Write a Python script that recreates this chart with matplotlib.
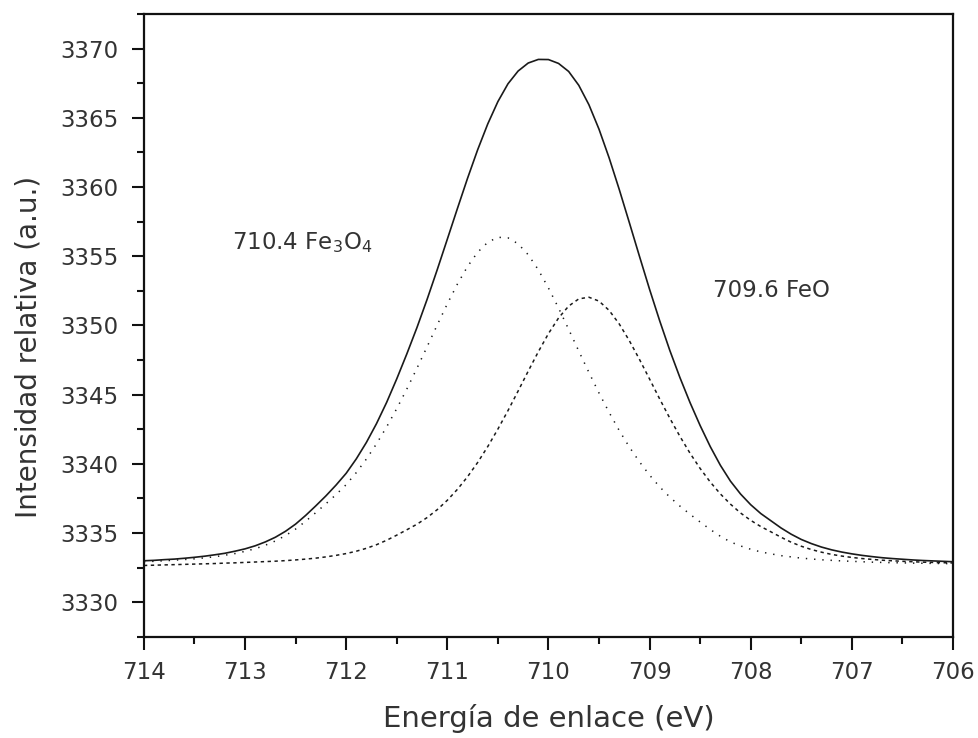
import matplotlib
matplotlib.use("Agg")
import matplotlib.pyplot as plt
from matplotlib.ticker import MultipleLocator

# Binding energy (eV), sampled every 0.1 eV from 714 down to 706
energy = [714.0, 713.9, 713.8, 713.7, 713.6, 713.5, 713.4, 713.3, 713.2, 713.1,
          713.0, 712.9, 712.8, 712.7, 712.6, 712.5, 712.4, 712.3, 712.2, 712.1,
          712.0, 711.9, 711.8, 711.7, 711.6, 711.5, 711.4, 711.3, 711.2, 711.1,
          711.0, 710.9, 710.8, 710.7, 710.6, 710.5, 710.4, 710.3, 710.2, 710.1,
          710.0, 709.9, 709.8, 709.7, 709.6, 709.5, 709.4, 709.3, 709.2, 709.1,
          709.0, 708.9, 708.8, 708.7, 708.6, 708.5, 708.4, 708.3, 708.2, 708.1,
          708.0, 707.9, 707.8, 707.7, 707.6, 707.5, 707.4, 707.3, 707.2, 707.1,
          707.0, 706.9, 706.8, 706.7, 706.6, 706.5, 706.4, 706.3, 706.2, 706.1,
          706.0]

# Total envelope (solid)
total = [3333.00, 3333.03, 3333.08, 3333.12, 3333.18, 3333.25, 3333.33, 3333.43, 3333.54, 3333.69,
         3333.86, 3334.08, 3334.36, 3334.70, 3335.13, 3335.65, 3336.28, 3336.97, 3337.69, 3338.47,
         3339.32, 3340.36, 3341.55, 3342.91, 3344.44, 3346.14, 3347.95, 3349.85, 3351.88, 3354.02,
         3356.23, 3358.45, 3360.63, 3362.69, 3364.56, 3366.17, 3367.46, 3368.38, 3368.96, 3369.22,
         3369.21, 3368.93, 3368.35, 3367.35, 3365.95, 3364.18, 3362.11, 3359.83, 3357.43, 3355.00,
         3352.61, 3350.34, 3348.20, 3346.24, 3344.43, 3342.77, 3341.25, 3339.90, 3338.75, 3337.82,
         3337.05, 3336.41, 3335.89, 3335.37, 3334.92, 3334.54, 3334.24, 3333.99, 3333.79, 3333.63,
         3333.50, 3333.39, 3333.30, 3333.22, 3333.16, 3333.11, 3333.06, 3333.02, 3332.99, 3332.96,
         3332.93]

# Fe3O4 component, 710.4 eV (dotted)
fe3o4 = [3332.93, 3332.96, 3333.00, 3333.04, 3333.09, 3333.14, 3333.21, 3333.29, 3333.40, 3333.52,
         3333.68, 3333.87, 3334.12, 3334.43, 3334.82, 3335.29, 3335.86, 3336.48, 3337.12, 3337.78,
         3338.50, 3339.37, 3340.35, 3341.45, 3342.67, 3343.99, 3345.41, 3346.91, 3348.46, 3350.03,
         3351.56, 3352.99, 3354.26, 3355.29, 3356.01, 3356.37, 3356.33, 3355.90, 3355.11, 3354.02,
         3352.71, 3351.26, 3349.72, 3348.15, 3346.61, 3345.12, 3343.72, 3342.41, 3341.22, 3340.15,
         3339.19, 3338.34, 3337.60, 3336.95, 3336.36, 3335.80, 3335.26, 3334.77, 3334.36, 3334.07,
         3333.83, 3333.64, 3333.50, 3333.37, 3333.28, 3333.19, 3333.13, 3333.07, 3333.03, 3332.99,
         3332.96, 3332.93, 3332.90, 3332.88, 3332.86, 3332.85, 3332.83, 3332.82, 3332.81, 3332.80,
         3332.79]

# FeO component, 709.6 eV (dashed)
feo = [3332.66, 3332.68, 3332.70, 3332.72, 3332.74, 3332.76, 3332.78, 3332.80, 3332.83, 3332.85,
       3332.88, 3332.91, 3332.94, 3332.97, 3333.01, 3333.06, 3333.12, 3333.19, 3333.28, 3333.39,
       3333.52, 3333.69, 3333.90, 3334.16, 3334.48, 3334.85, 3335.24, 3335.64, 3336.12, 3336.69,
       3337.37, 3338.16, 3339.07, 3340.10, 3341.25, 3342.51, 3343.85, 3345.26, 3346.70, 3348.10,
       3349.41, 3350.54, 3351.40, 3351.92, 3352.04, 3351.76, 3351.09, 3350.11, 3348.90, 3347.55,
       3346.13, 3344.69, 3343.30, 3341.99, 3340.77, 3339.67, 3338.69, 3337.83, 3337.09, 3336.45,
       3335.92, 3335.47, 3335.09, 3334.70, 3334.34, 3334.05, 3333.81, 3333.62, 3333.46, 3333.34,
       3333.24, 3333.16, 3333.10, 3333.04, 3333.00, 3332.96, 3332.93, 3332.90, 3332.88, 3332.86,
       3332.84]

x_ticks = [714, 713, 712, 711, 710, 709, 708, 707, 706]
y_ticks = [3330, 3335, 3340, 3345, 3350, 3355, 3360, 3365, 3370]

plt.rcParams['font.family'] = ['DejaVu Sans']
plt.rcParams['mathtext.fontset'] = 'dejavusans'

fig = plt.figure(figsize=(9.79, 7.38), dpi=100)
ax = fig.add_axes([0.147, 0.137, 0.8264, 0.844])

ink = '#1a1a1a'
ax.plot(energy, total, color=ink, lw=1.2, solid_capstyle='round')
ax.plot(energy, fe3o4, color=ink, lw=1.1, ls=(0, (0.9, 4.5)))
ax.plot(energy, feo, color=ink, lw=1.1, ls=(0, (2.2, 2.3)))

ax.set_xlim(714, 706)
ax.set_ylim(3327.5, 3372.5)
ax.set_xticks(x_ticks)
ax.set_yticks(y_ticks)
ax.xaxis.set_minor_locator(MultipleLocator(0.5))
ax.yaxis.set_minor_locator(MultipleLocator(2.5))

for s in ax.spines.values():
    s.set_linewidth(1.6)
    s.set_color('#111111')

ax.tick_params(which='major', direction='out', length=9, width=1.5, labelsize=16.5,
               colors='#111111', labelcolor='#333333', pad=9.4,
               top=False, right=False)
ax.tick_params(which='minor', direction='out', length=5, width=1.5,
               colors='#111111', top=False, right=False)
ax.tick_params(axis='x', which='major', pad=8)

ax.set_xlabel('Energía de enlace (eV)', fontsize=21, color='#333333')
ax.set_ylabel('Intensidad relativa (a.u.)', fontsize=20, color='#333333')
ax.xaxis.set_label_coords(0.5, -0.108)
ax.yaxis.set_label_coords(-0.125, 0.4655)

ax.text(713.13, 3356.0, '710.4 Fe$_{3}$O$_{4}$', fontsize=16.5, color='#333333',
        ha='left', va='center')
ax.text(708.37, 3352.5, '709.6 FeO', fontsize=16.5, color='#333333',
        ha='left', va='center')

fig.savefig('out.png', dpi=100)
